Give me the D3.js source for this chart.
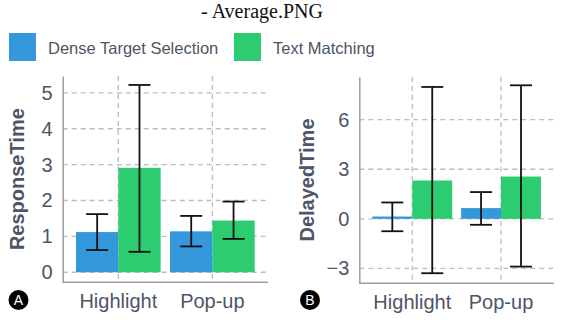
<!DOCTYPE html>
<html>
<head>
<meta charset="utf-8">
<script src="https://cdn.jsdelivr.net/npm/d3@7"></script>
<style>
  body { margin: 0; background: #fff; }
  svg text { font-family: "Liberation Sans", Arial, sans-serif; }
</style>
</head>
<body>
<div id="chart"></div>
<script>
// Data
const categories = ["Highlight", "Pop-up"];
const seriesNames = ["Dense Target Selection", "Text Matching"];
const seriesColors = ["#3498db", "#2ecc71"];

// Panel A: ResponseTime
const responseMean = [[1.12, 2.91], [1.14, 1.44]];
const responseLow  = [[0.62, 0.57], [0.72, 0.93]];
const responseHigh = [[1.62, 5.22], [1.57, 1.97]];
const responseTicks = [0, 1, 2, 3, 4, 5];

// Panel B: DelayedTime
const delayedMean = [[0.14, 2.32], [0.65, 2.56]];
const delayedLow  = [[-0.75, -3.29], [-0.36, -2.89]];
const delayedHigh = [[0.99, 7.98], [1.62, 8.08]];
const delayedTicks = [-3, 0, 3, 6];

const textColor = "#4d5566";

const svg = d3.select("#chart")
    .append("svg")
    .attr("width", 561)
    .attr("height", 320);

// Title
svg.append("text")
    .attr("x", 262)
    .attr("y", 18)
    .attr("text-anchor", "middle")
    .style("font-family", "'Liberation Serif', 'DejaVu Serif', serif")
    .style("font-size", "20px")
    .style("fill", "#111")
    .text("- Average.PNG");

// Legend
const legendX = [9, 234];
seriesNames.forEach((name, i) => {
    svg.append("rect")
        .attr("x", legendX[i])
        .attr("y", 33)
        .attr("width", 27)
        .attr("height", 28)
        .attr("fill", seriesColors[i]);
    svg.append("text")
        .attr("x", legendX[i] + 39)
        .attr("y", 53.5)
        .style("font-size", "16.5px")
        .style("fill", textColor)
        .text(name);
});

function drawPanel(opts) {
    const {left, right, top, bottom, domain, ticks, means, lows, highs, title, titleX, badge, badgeX} = opts;

    const y = d3.scaleLinear().domain(domain).range([bottom, top]);

    const x0 = d3.scaleBand()
        .domain(categories)
        .range([left + 8.6, right - 8.6])
        .paddingInner(0.1)
        .paddingOuter(0.05);

    const x1 = d3.scaleBand()
        .domain(d3.range(seriesNames.length))
        .range([0, x0.bandwidth()]);

    const g = svg.append("g");

    // Horizontal dashed grid
    g.selectAll(".hgrid")
        .data(ticks)
        .enter()
        .append("line")
        .attr("x1", left)
        .attr("x2", right)
        .attr("y1", d => y(d))
        .attr("y2", d => y(d))
        .attr("stroke", "#bdbdbd")
        .attr("stroke-width", 1.3)
        .attr("stroke-dasharray", "5,4");

    // Vertical dashed grid at category centers
    g.selectAll(".vgrid")
        .data(categories)
        .enter()
        .append("line")
        .attr("x1", d => x0(d) + x0.bandwidth() / 2)
        .attr("x2", d => x0(d) + x0.bandwidth() / 2)
        .attr("y1", top)
        .attr("y2", bottom)
        .attr("stroke", "#bdbdbd")
        .attr("stroke-width", 1.3)
        .attr("stroke-dasharray", "5,4");

    // Bars
    const groups = g.selectAll(".grp")
        .data(categories)
        .enter()
        .append("g")
        .attr("transform", d => `translate(${x0(d)},0)`);

    groups.selectAll("rect")
        .data((d, ci) => means[ci].map((v, si) => ({v, si})))
        .enter()
        .append("rect")
        .attr("x", d => x1(d.si))
        .attr("width", x1.bandwidth())
        .attr("y", d => y(Math.max(0, d.v)))
        .attr("height", d => Math.max(Math.abs(y(d.v) - y(0)), 2))
        .attr("fill", d => seriesColors[d.si]);

    // Error bars
    const errs = groups.selectAll(".err")
        .data((d, ci) => means[ci].map((v, si) => ({lo: lows[ci][si], hi: highs[ci][si], si})))
        .enter()
        .append("g")
        .attr("transform", d => `translate(${x1(d.si) + x1.bandwidth() / 2},0)`);

    const capW = 11;
    errs.append("line")
        .attr("y1", d => y(d.lo))
        .attr("y2", d => y(d.hi))
        .attr("stroke", "#111")
        .attr("stroke-width", 1.8);
    errs.append("line")
        .attr("x1", -capW).attr("x2", capW)
        .attr("y1", d => y(d.hi)).attr("y2", d => y(d.hi))
        .attr("stroke", "#111")
        .attr("stroke-width", 1.8);
    errs.append("line")
        .attr("x1", -capW).attr("x2", capW)
        .attr("y1", d => y(d.lo)).attr("y2", d => y(d.lo))
        .attr("stroke", "#111")
        .attr("stroke-width", 1.8);

    // Y axis
    const yAxis = g.append("g")
        .attr("transform", `translate(${left},0)`)
        .call(d3.axisLeft(y).tickValues(ticks).tickFormat(d3.format("d")).tickSize(0).tickPadding(10));
    yAxis.select(".domain").attr("stroke", "#9e9e9e").attr("stroke-width", 1.5);
    yAxis.selectAll("text")
        .style("font-size", "20px")
        .style("fill", textColor)
        .style("font-family", "'Liberation Sans', Arial, sans-serif");

    // X axis
    const xAxis = g.append("g")
        .attr("transform", `translate(0,${bottom})`)
        .call(d3.axisBottom(x0).tickSize(0).tickPadding(12));
    xAxis.select(".domain")
        .attr("d", `M${left},0H${right}`)
        .attr("stroke", "#9e9e9e").attr("stroke-width", 1.5);
    xAxis.selectAll("text")
        .style("font-size", "20px")
        .style("fill", textColor)
        .style("font-family", "'Liberation Sans', Arial, sans-serif");

    // Y title
    g.append("text")
        .attr("transform", `translate(${titleX},${(top + bottom) / 2}) rotate(-90)`)
        .attr("text-anchor", "middle")
        .attr("dy", "0.35em")
        .style("font-size", "20px")
        .style("font-weight", "bold")
        .style("fill", "#4d5566")
        .text(title);

    // Panel badge
    g.append("circle")
        .attr("cx", badgeX)
        .attr("cy", 300)
        .attr("r", 10)
        .attr("fill", "#000");
    g.append("text")
        .attr("x", badgeX)
        .attr("y", 300)
        .attr("dy", "0.36em")
        .attr("text-anchor", "middle")
        .style("font-size", "14px")
        .style("fill", "#fff")
        .text(badge);
}

drawPanel({
    left: 62.7, right: 268, top: 76, bottom: 282.3,
    domain: [-0.28, 5.47], ticks: responseTicks,
    means: responseMean, lows: responseLow, highs: responseHigh,
    title: "ResponseTime", titleX: 17, badge: "A", badgeX: 18.5
});

drawPanel({
    left: 359.3, right: 554, top: 76.7, bottom: 283.3,
    domain: [-3.9, 8.6], ticks: delayedTicks,
    means: delayedMean, lows: delayedLow, highs: delayedHigh,
    title: "DelayedTime", titleX: 307, badge: "B", badgeX: 310
});
</script>
</body>
</html>
